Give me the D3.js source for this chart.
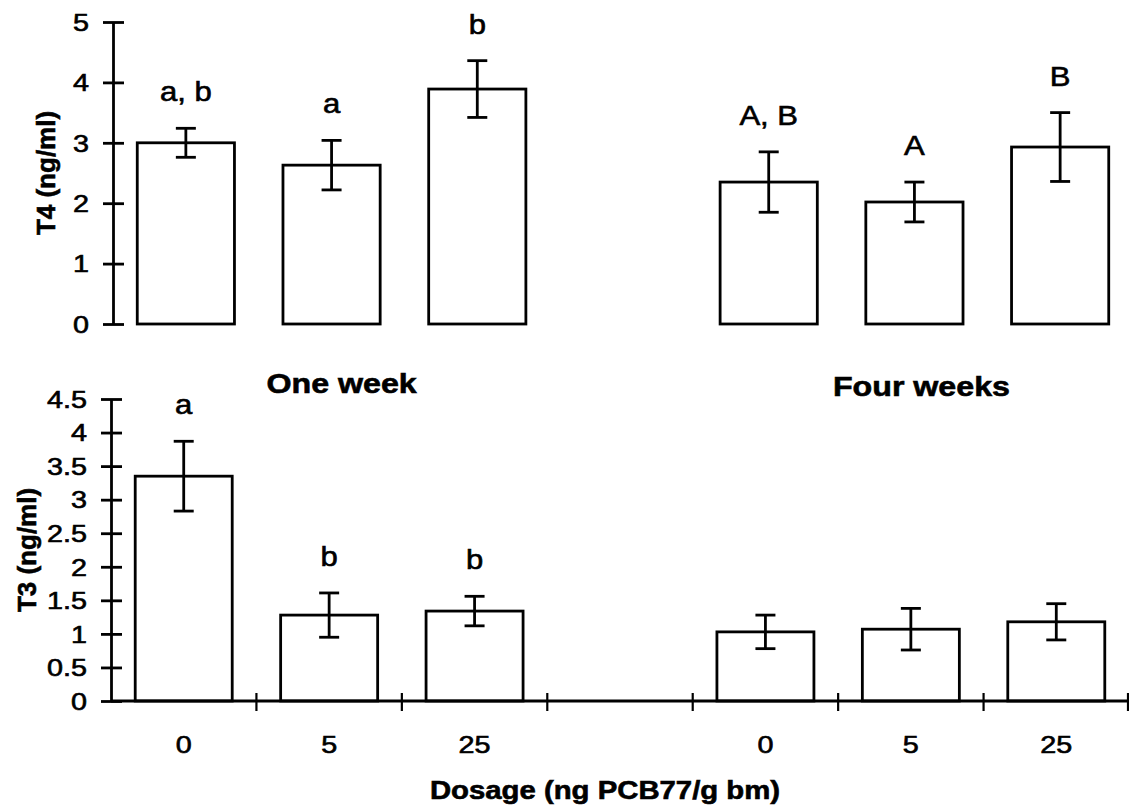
<!DOCTYPE html>
<html>
<head>
<meta charset="utf-8">
<script src="https://cdn.jsdelivr.net/npm/d3@7"></script>
<style>
  html, body { margin: 0; padding: 0; background: #fff; }
  svg { display: block; }
  text { font-family: Arial, "Liberation Sans", Helvetica, sans-serif; fill: #000; }
  text.heavy { stroke: #000; stroke-width: 0.6px; }
</style>
</head>
<body>
<script>
// Dose groups and the two sampling times
const timeGroups = ["One week", "Four weeks"];
const doseLabels = ["0", "5", "25"];
// Category keys along x: three doses per time, with an empty slot between times
const slots = ["w1-0", "w1-5", "w1-25", "gap", "w4-0", "w4-5", "w4-25"];
const slotLabels = ["0", "5", "25", "", "0", "5", "25"];
const barSlots = ["w1-0", "w1-5", "w1-25", "w4-0", "w4-5", "w4-25"];

// Plasma T4 (ng/ml): means, error and significance letters
const t4Mean = [3.00, 2.63, 3.89, 2.35, 2.02, 2.93];
const t4Err = [0.24, 0.41, 0.47, 0.50, 0.33, 0.57];
const t4Letters = ["a, b", "a", "b", "A, B", "A", "B"];
const t4Ticks = [0, 1, 2, 3, 4, 5];

// Plasma T3 (ng/ml)
const t3Mean = [3.35, 1.28, 1.34, 1.03, 1.07, 1.18];
const t3Err = [0.52, 0.33, 0.22, 0.25, 0.31, 0.27];
const t3Letters = ["a", "b", "b", "", "", ""];
const t3Ticks = [0, 0.5, 1, 1.5, 2, 2.5, 3, 3.5, 4, 4.5];

const W = 1129, H = 809;
const SX = 1.15;         // horizontal stretch of the lettering
const SXT = 1.25;        // horizontal stretch of the tick numbers
const LW = 2.8;          // line weight

const svg = d3.select("body").append("svg")
  .attr("width", W).attr("height", H);

function stretchedText(g, x, y, str, size, weight, anchor) {
  return g.append("text")
    .attr("class", "heavy")
    .attr("transform", `translate(${x},${y}) scale(${SX},1)`)
    .attr("text-anchor", anchor || "middle")
    .style("font-size", size + "px")
    .style("font-weight", weight || "normal")
    .text(str);
}

function panel(opts) {
  const g = svg.append("g");
  const x = d3.scaleBand().domain(slots).range(opts.xRange).paddingInner(0).paddingOuter(0);
  const y = d3.scaleLinear().domain(opts.yDomain).range(opts.yRange);
  const bw = x.bandwidth() * 0.667;

  // y axis with ticks crossing the axis line
  const ax = g.append("g")
    .attr("transform", `translate(${opts.axisX},0)`)
    .call(d3.axisLeft(y).tickValues(opts.ticks).tickSize(10).tickSizeOuter(0)
      .tickFormat(d3.format("")));
  ax.select(".domain").attr("stroke", "#000").attr("stroke-width", LW);
  ax.selectAll(".tick line").attr("x1", -10).attr("x2", 11)
    .attr("stroke", "#000").attr("stroke-width", LW);
  ax.selectAll(".tick text")
    .attr("class", "heavy")
    .attr("x", null).attr("dy", "0.36em")
    .attr("transform", `translate(-24,0) scale(${SXT},1)`)
    .attr("text-anchor", "end")
    .attr("font-size", 23)
    .style("font-size", "23px").style("font-family", "Arial, 'Liberation Sans', sans-serif");

  // y axis title
  g.append("text")
    .attr("class", "heavy")
    .attr("transform", `translate(${opts.titleX},${(opts.yRange[0] + opts.yRange[1]) / 2}) rotate(-90)`)
    .attr("text-anchor", "middle")
    .attr("dy", "0.35em")
    .style("font-size", "26px").style("font-weight", "bold")
    .text(opts.title);

  const rows = barSlots.map((k, i) => ({ key: k, mean: opts.mean[i], err: opts.err[i], letter: opts.letters[i] }));

  // bars
  g.selectAll("rect.bar").data(rows).join("rect")
    .attr("class", "bar")
    .attr("x", d => x(d.key) + (x.bandwidth() - bw) / 2)
    .attr("y", d => y(d.mean))
    .attr("width", bw)
    .attr("height", d => y(0) - y(d.mean))
    .attr("fill", "#fff").attr("stroke", "#000").attr("stroke-width", LW);

  // error bars
  const eb = g.selectAll("g.err").data(rows).join("g").attr("class", "err")
    .attr("transform", d => `translate(${x(d.key) + x.bandwidth() / 2},0)`);
  eb.append("line").attr("y1", d => y(d.mean - d.err)).attr("y2", d => y(d.mean + d.err))
    .attr("stroke", "#000").attr("stroke-width", LW);
  eb.append("line").attr("x1", -10).attr("x2", 10)
    .attr("y1", d => y(d.mean + d.err)).attr("y2", d => y(d.mean + d.err))
    .attr("stroke", "#000").attr("stroke-width", LW);
  eb.append("line").attr("x1", -10).attr("x2", 10)
    .attr("y1", d => y(d.mean - d.err)).attr("y2", d => y(d.mean - d.err))
    .attr("stroke", "#000").attr("stroke-width", LW);

  // significance letters
  rows.forEach(d => {
    if (!d.letter) return;
    stretchedText(g, x(d.key) + x.bandwidth() / 2, y(d.mean + d.err) - opts.letterGap, d.letter, 27);
  });

  return { g, x, y };
}

// T4 panel (no horizontal axis line)
const t4Panel = panel({
  xRange: [113, 1133], yDomain: [0, 5], yRange: [324, 22], axisX: 113,
  ticks: t4Ticks, title: "T4 (ng/ml)", titleX: 46,
  mean: t4Mean, err: t4Err, letters: t4Letters, letterGap: 27
});

// T3 panel
const t3Panel = panel({
  xRange: [111, 1129], yDomain: [0, 4.5], yRange: [701, 399], axisX: 111,
  ticks: t3Ticks, title: "T3 (ng/ml)", titleX: 27,
  mean: t3Mean, err: t3Err, letters: t3Letters, letterGap: 27
});

// x axis of the T3 panel: dose labels and slot boundary ticks
const xAxis = t3Panel.g.append("g")
  .attr("transform", `translate(0,${t3Panel.y(0)})`)
  .call(d3.axisBottom(t3Panel.x).tickSize(0).tickPadding(0)
    .tickFormat((d, i) => slotLabels[i]));
xAxis.select(".domain").remove();
xAxis.selectAll(".tick text")
  .attr("class", "heavy")
  .attr("y", null).attr("dy", null)
  .attr("transform", `translate(0,52) scale(${SXT},1)`)
  .attr("font-size", 23)
  .style("font-size", "23px").style("font-family", "Arial, 'Liberation Sans', sans-serif");

t3Panel.g.append("line")
  .attr("x1", t3Panel.x.range()[0]).attr("x2", t3Panel.x.range()[1])
  .attr("y1", t3Panel.y(0)).attr("y2", t3Panel.y(0))
  .attr("stroke", "#000").attr("stroke-width", LW);

const bounds = slots.map(k => t3Panel.x(k)).concat([t3Panel.x.range()[1] - 1]);
t3Panel.g.selectAll("line.bound").data(bounds.slice(1)).join("line")
  .attr("class", "bound")
  .attr("x1", d => d).attr("x2", d => d)
  .attr("y1", t3Panel.y(0) - 8).attr("y2", t3Panel.y(0) + 10)
  .attr("stroke", "#000").attr("stroke-width", 2.2);

// time-group headings, centred over each group of doses
const groupCentre = gi => {
  const a = t4Panel.x(slots[gi * 4]), b = t4Panel.x(slots[gi * 4 + 2]) + t4Panel.x.bandwidth();
  return (a + b) / 2;
};
stretchedText(svg, groupCentre(0) + 10, 393, timeGroups[0], 28, "bold");
stretchedText(svg, groupCentre(1) + 7, 396, timeGroups[1], 28, "bold");

// x axis title
stretchedText(svg, 605, 799, "Dosage (ng PCB77/g bm)", 25.5, "bold");
</script>
</body>
</html>
